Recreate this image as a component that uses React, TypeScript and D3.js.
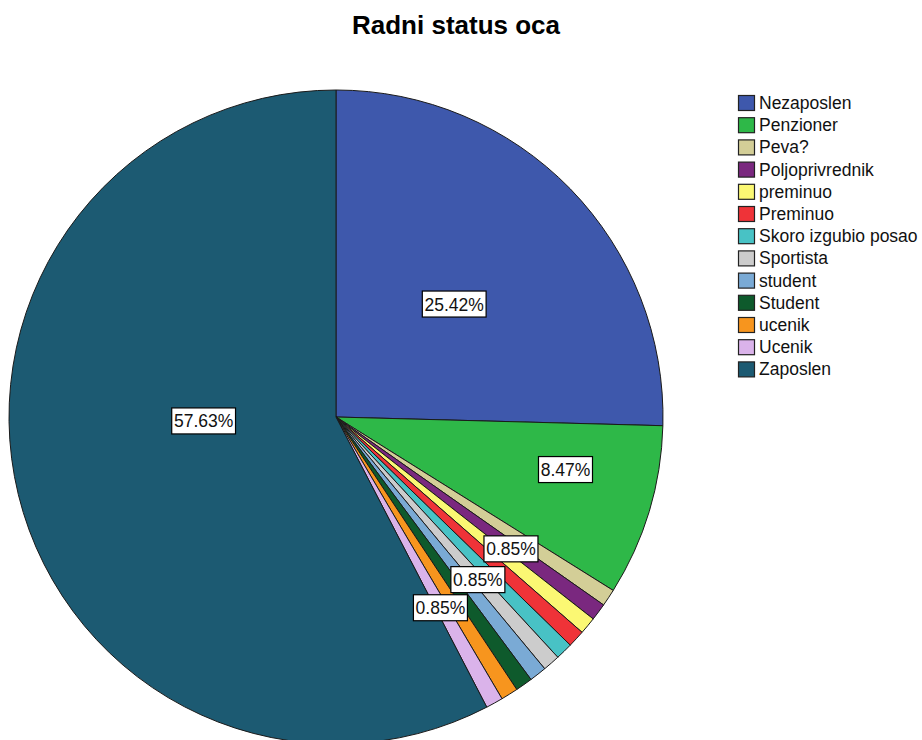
import React from "react";
import * as d3 from "d3";

const categories = ["Nezaposlen","Penzioner","Peva?","Poljoprivrednik","preminuo","Preminuo","Skoro izgubio posao","Sportista","student","Student","ucenik","Ucenik","Zaposlen"];
const counts = [30,10,1,1,1,1,1,1,1,1,1,1,68];
const colors = ["#3e58ac","#2eb848","#d3ce97","#7a287f","#fbf873","#ef3338","#48c2c5","#cccccc","#7aaad5","#0e5a2c","#f7951e","#dab3ea","#1c5a72"];
// labels shown: category index, angle (deg, clockwise from top), radius fraction
const labelIdx = [0, 1, 3, 7, 11, 12];
const labelAng = [46.3, 102.9, 127, 138.9, 151.3, 268.3];
const labelRad = [0.5, 0.72, 0.67, 0.66, 0.665, 0.405];

const W = 922, H = 740;
const cx = 336, cy = 417, R = 327;

export default function App() {
  const total = d3.sum(counts);
  const pie = d3.pie<number>().sort(null).value(d => d)(counts);
  const arc = d3.arc<d3.PieArcDatum<number>>().innerRadius(0).outerRadius(R);
  const fmt = (v: number) => (v / total * 100).toFixed(2) + "%";
  const font = "'Liberation Sans', Arial, sans-serif";
  return (
    <div style={{ position: "fixed", left: 0, top: 0 }}>
      <svg width={W} height={H} style={{ display: "block", background: "#fff" }}>
        <text x={456} y={34} textAnchor="middle" fontFamily={font} fontWeight="bold" fontSize={26} fill="#000">Radni status oca</text>
        <g transform={`translate(${cx},${cy})`}>
          {pie.map((p, i) => (
            <path key={i} d={arc(p) || ""} fill={colors[i]} stroke="#1a1a1a" strokeWidth={1} />
          ))}
          {labelIdx.map((ci, k) => {
            const a = labelAng[k] * Math.PI / 180;
            const r = labelRad[k] * R;
            const x = r * Math.sin(a), y = -r * Math.cos(a);
            const t = fmt(counts[ci]);
            const w = t.length * 9.8 + 5;
            return (
              <g key={k} transform={`translate(${x},${y})`}>
                <rect x={-w / 2} y={-13} width={w} height={26} fill="#fff" stroke="#000" strokeWidth={1.2} />
                <text x={0} y={6.5} textAnchor="middle" fontFamily={font} fontSize={17.5} fill="#111">{t}</text>
              </g>
            );
          })}
        </g>
        <g transform="translate(738,95)">
          {categories.map((c, i) => (
            <g key={c} transform={`translate(0,${i * 22.2})`}>
              <rect x={0.5} y={0.5} width={16} height={15} fill={colors[i]} stroke="#222" strokeWidth={1.2} />
              <text x={21} y={14} fontFamily={font} fontSize={17.5} fill="#111">{c}</text>
            </g>
          ))}
        </g>
      </svg>
    </div>
  );
}
